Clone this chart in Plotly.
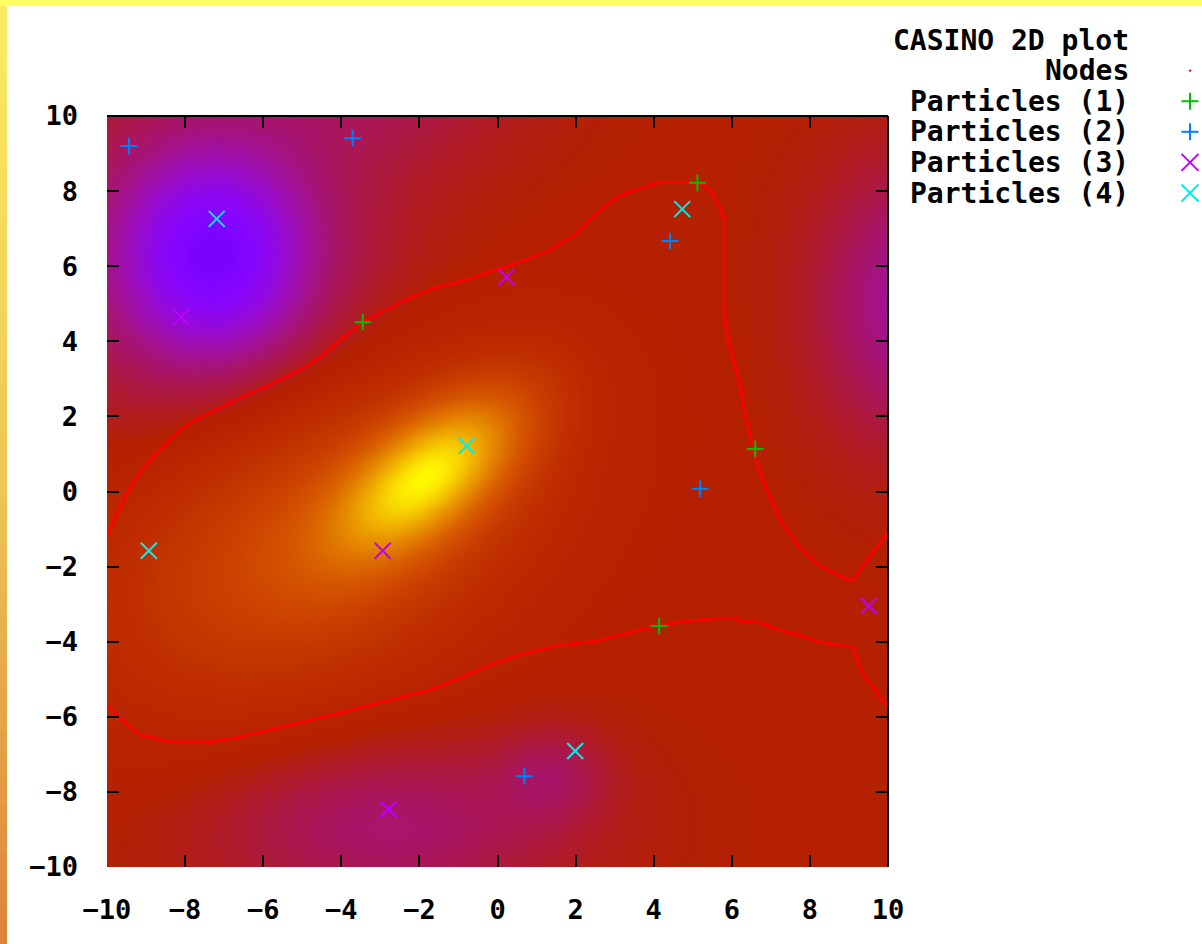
import numpy as np
import plotly.graph_objects as go

# ---------------------------------------------------------------- data
# particle positions, one group per species
p1_x = [-3.45, 5.12, 6.60, 4.14]
p1_y = [4.51, 8.22, 1.13, -3.58]
p2_x = [-9.44, -3.71, 4.42, 5.19, 0.69]
p2_y = [9.20, 9.41, 6.67, 0.07, -7.58]
p3_x = [-8.11, 0.23, -2.94, 9.51, -2.79]
p3_y = [4.65, 5.71, -1.58, -3.05, -8.46]
p4_x = [-7.19, 4.73, -0.79, -8.93, 1.99]
p4_y = [7.26, 7.52, 1.21, -1.58, -6.91]

# nodal points of the wavefunction (upper and lower node lines)
node_a_x = [-10.00, -9.80, -9.54, -9.28, -8.90, -8.52, -8.13, -7.75, -7.24, -6.60,
            -5.83, -5.06, -4.55, -4.04, -3.45, -2.89, -2.25, -1.61, -0.97, -0.20,
            0.56, 1.33, 1.97, 2.35, 2.74, 3.12, 3.63, 4.14, 4.91, 5.29,
            5.50, 5.68, 5.81, 5.81, 5.81, 5.88, 5.98, 6.24, 6.32, 6.55,
            6.70, 7.01, 7.24, 7.72, 8.24, 8.82, 9.10, 9.34, 9.59, 9.92, 10.00]
node_a_y = [-1.21, -0.71, -0.15, 0.31, 0.84, 1.24, 1.64, 1.90, 2.17, 2.49,
            2.84, 3.24, 3.56, 4.03, 4.51, 4.83, 5.15, 5.42, 5.58, 5.85,
            6.11, 6.43, 6.83, 7.23, 7.58, 7.88, 8.06, 8.24, 8.24, 8.16,
            7.95, 7.58, 7.23, 5.98, 4.75, 4.11, 3.77, 2.70, 2.17, 1.13,
            0.57, -0.23, -0.76, -1.48, -1.96, -2.28, -2.38, -2.01, -1.64, -1.21, -1.10]
node_b_x = [-10.00, -9.67, -9.16, -8.39, -7.37, -6.60, -5.83, -5.06, -4.04, -3.27,
            -2.51, -1.74, -0.97, -0.20, 0.56, 1.59, 2.61, 3.12, 3.63, 4.14,
            4.65, 5.42, 6.11, 6.19, 6.70, 7.21, 7.72, 8.24, 8.82, 9.10,
            9.26, 9.44, 9.69, 9.82, 10.00]
node_b_y = [-5.69, -6.03, -6.48, -6.67, -6.67, -6.54, -6.35, -6.16, -5.90, -5.69,
            -5.50, -5.29, -4.97, -4.62, -4.35, -4.09, -3.98, -3.82, -3.69, -3.58,
            -3.48, -3.40, -3.37, -3.45, -3.48, -3.69, -3.82, -4.01, -4.09, -4.14,
            -4.62, -5.02, -5.29, -5.55, -5.69]

# wavefunction lobes: centre, amplitude, widths along / across the tilt axis
lobe_cx = [-1.7, -4.5, -7.3, -7.3, -2.8, 1.4, 10.7, -2.8]
lobe_cy = [0.5, -1.2, 6.3, 6.3, -8.9, -7.5, 5.0, 10.8]
lobe_amp = [0.74, 0.34, -0.36, -0.19, -0.14, -0.09, -0.21, -0.08]
lobe_sa = [2.0, 4.0, 1.4, 3.0, 3.2, 1.0, 1.7, 2.5]
lobe_sb = [1.0, 2.5, 1.6, 3.3, 1.6, 0.9, 2.5, 1.5]
lobe_tilt = [40, 30, 0, 0, 0, 0, 0, 0]

tick_vals = [-10, -8, -6, -4, -2, 0, 2, 4, 6, 8, 10]

# ---------------------------------------------------------------- field
gx = np.linspace(-10, 10, 241)
gy = np.linspace(-10, 10, 241)
X, Y = np.meshgrid(gx, gy)
psi = np.zeros_like(X)
for cx, cy, a, sa, sb, t in zip(lobe_cx, lobe_cy, lobe_amp, lobe_sa, lobe_sb, lobe_tilt):
    th = np.radians(t)
    u = (X - cx) * np.cos(th) + (Y - cy) * np.sin(th)
    v = -(X - cx) * np.sin(th) + (Y - cy) * np.cos(th)
    psi += a * np.exp(-0.5 * ((u / sa) ** 2 + (v / sb) ** 2))

# gnuplot-style rgbformulae 7,5,15 palette
pal = []
for f in np.linspace(0, 1, 81):
    r = np.sqrt(f)
    g = f ** 3
    b = max(0.0, np.sin(2 * np.pi * f))
    pal.append([float(f), f"rgb({round(255*r)},{round(255*g)},{round(255*b)})"])

# ---------------------------------------------------------------- figure
W, H = 1202, 944
ML, MR, MT, MB = 107, 314, 116, 77
PW, PH = W - ML - MR, H - MT - MB


def px(xp):
    return (xp - ML) / PW


def py(yp):
    return (H - MB - yp) / PH


FONT = dict(family="DejaVu Sans Mono", size=27, color="black", weight="bold")
KEY_FONT = dict(family="DejaVu Sans Mono", size=28, color="black", weight="bold")

fig = go.Figure()
fig.add_trace(go.Heatmap(x=gx, y=gy, z=psi, colorscale=pal, zmin=-1, zmax=1,
                         zsmooth="best", showscale=False, hoverinfo="skip"))

fig.add_trace(go.Scatter(x=node_a_x, y=node_a_y, mode="lines", name="Nodes",
                         line=dict(color="#ff0000", width=2.8), showlegend=False))
fig.add_trace(go.Scatter(x=node_b_x, y=node_b_y, mode="lines", name="Nodes",
                         line=dict(color="#ff0000", width=2.8), showlegend=False))

groups = [
    ("Particles (1)", p1_x, p1_y, "cross-thin", 12, "#00c000"),
    ("Particles (2)", p2_x, p2_y, "cross-thin", 12, "#0080ff"),
    ("Particles (3)", p3_x, p3_y, "x-thin", 16, "#c000ff"),
    ("Particles (4)", p4_x, p4_y, "x-thin", 16, "#00eeee"),
]
for name, xs, ys, sym, sz, col in groups:
    fig.add_trace(go.Scatter(x=xs, y=ys, mode="markers", name=name, showlegend=False,
                             marker=dict(symbol=sym, size=sz, color=col,
                                         line=dict(width=2, color=col))))

shapes = []
# page backdrop strips
shapes.append(dict(type="rect", xref="paper", yref="paper", layer="below",
                   x0=px(0), x1=px(W), y0=py(6), y1=py(0),
                   fillcolor="rgb(255,255,100)", line=dict(width=0)))
n_seg = 40
c_top = np.array([250, 236, 98])
c_mid = np.array([238, 200, 84])
c_bot = np.array([222, 132, 60])
for i in range(n_seg):
    t = (i + 0.5) / n_seg
    c = c_top + (c_mid - c_top) * (t / 0.5) if t < 0.5 else c_mid + (c_bot - c_mid) * ((t - 0.5) / 0.5)
    y0p = 6 + (H - 6) * i / n_seg
    y1p = 6 + (H - 6) * (i + 1) / n_seg
    shapes.append(dict(type="rect", xref="paper", yref="paper", layer="below",
                       x0=px(0), x1=px(7), y0=py(y1p + 0.5), y1=py(y0p),
                       fillcolor=f"rgb({int(c[0])},{int(c[1])},{int(c[2])})",
                       line=dict(width=0)))
# frame top and right edges
shapes.append(dict(type="line", xref="paper", yref="paper", x0=0, x1=1, y0=1, y1=1,
                   line=dict(color="black", width=2)))
shapes.append(dict(type="line", xref="paper", yref="paper", x0=1, x1=1, y0=0, y1=1,
                   line=dict(color="black", width=2)))

# key: text right-aligned, symbol on the right
annotations = []
key_rows = [("CASINO 2D plot", None, None),
            ("Nodes", "dot", "#ff0000")] + [(g[0], "plus" if g[3] == "cross-thin" else "x", g[5]) for g in groups]
row_y0, row_dy = 40, 30.6
sym_x, half = 1190, 8.5
for k, (label, kind, col) in enumerate(key_rows):
    yy = row_y0 + k * row_dy
    annotations.append(dict(xref="paper", yref="paper", x=px(1131), y=py(yy),
                            xanchor="right", yanchor="middle", text=label,
                            showarrow=False, font=KEY_FONT))
    if kind == "dot":
        shapes.append(dict(type="circle", xref="paper", yref="paper",
                           x0=px(sym_x - 1.2), x1=px(sym_x + 1.2),
                           y0=py(yy + 1.2), y1=py(yy - 1.2),
                           fillcolor=col, line=dict(width=0)))
    elif kind == "plus":
        shapes.append(dict(type="line", xref="paper", yref="paper",
                           x0=px(sym_x - half), x1=px(sym_x + half), y0=py(yy), y1=py(yy),
                           line=dict(color=col, width=2)))
        shapes.append(dict(type="line", xref="paper", yref="paper",
                           x0=px(sym_x), x1=px(sym_x), y0=py(yy - half), y1=py(yy + half),
                           line=dict(color=col, width=2)))
    elif kind == "x":
        shapes.append(dict(type="line", xref="paper", yref="paper",
                           x0=px(sym_x - half), x1=px(sym_x + half),
                           y0=py(yy - half), y1=py(yy + half),
                           line=dict(color=col, width=2)))
        shapes.append(dict(type="line", xref="paper", yref="paper",
                           x0=px(sym_x - half), x1=px(sym_x + half),
                           y0=py(yy + half), y1=py(yy - half),
                           line=dict(color=col, width=2)))

axis_common = dict(range=[-10, 10], tickvals=tick_vals, ticks="inside", ticklen=12,
                   tickwidth=2, tickcolor="black", mirror="ticks", showline=False,
                   showgrid=False, zeroline=False, tickfont=FONT)

fig.update_layout(
    width=W, height=H, margin=dict(l=ML, r=MR, t=MT, b=MB, pad=0),
    paper_bgcolor="white", plot_bgcolor="white", showlegend=False,
    xaxis=dict(**axis_common, ticklabelstandoff=24),
    yaxis=dict(**axis_common, ticklabelstandoff=28),
    shapes=shapes, annotations=annotations,
)

fig.write_html("out.html")
